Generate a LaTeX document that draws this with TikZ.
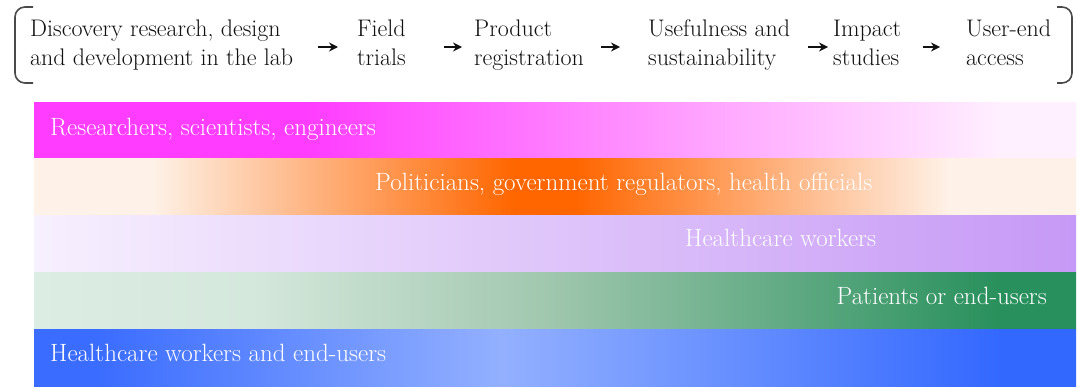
\documentclass[tikz,border=0pt]{standalone}
\usetikzlibrary{arrows.meta, positioning}
\definecolor{ink}         {HTML}{111111}
\definecolor{rim}         {HTML}{4A4A4A}
\definecolor{magentaband} {HTML}{FF3CFF}
\definecolor{pinkpale}    {HTML}{FFF0FF}
\definecolor{peach}       {HTML}{FEF2E8}
\definecolor{orangeband}  {HTML}{FF6600}
\definecolor{lilac}       {HTML}{F7F0FE}
\definecolor{purpleband}  {HTML}{C699F6}
\definecolor{mint}        {HTML}{DCEDE3}
\definecolor{mintgrey}    {HTML}{D5E8DC}
\definecolor{sage}        {HTML}{A2C8B0}
\definecolor{greenband}   {HTML}{28905C}
\definecolor{blueband}    {HTML}{3A6CFF}
\definecolor{skyband}     {HTML}{93B0FF}
\definecolor{deepblue}    {HTML}{3368FF}

% one shading per stakeholder band (25bp..75bp spans the band)
\pgfdeclarehorizontalshading{researchers}{100bp}{color(0bp)=(magentaband); color(38bp)=(magentaband);
  color(71.4bp)=(pinkpale); color(100bp)=(pinkpale)}
\pgfdeclarehorizontalshading{politicians}{100bp}{color(0bp)=(peach); color(30.6bp)=(peach);
  color(48bp)=(orangeband); color(51bp)=(orangeband); color(69bp)=(peach); color(100bp)=(peach)}
\pgfdeclarehorizontalshading{workers}{100bp}{color(0bp)=(lilac); color(25bp)=(lilac);
  color(75bp)=(purpleband); color(100bp)=(purpleband)}
\pgfdeclarehorizontalshading{patients}{100bp}{color(0bp)=(mint); color(25bp)=(mint);
  color(35.4bp)=(mintgrey); color(49.3bp)=(sage); color(71.4bp)=(greenband); color(100bp)=(greenband)}
\pgfdeclarehorizontalshading{endusers}{100bp}{color(0bp)=(blueband); color(28bp)=(blueband);
  color(47.4bp)=(skyband); color(71.4bp)=(deepblue); color(100bp)=(deepblue)}

\tikzset{
  stagebox/.style={anchor=west, inner sep=0pt, align=left, text=ink,
    font=\fontsize{24}{29}\selectfont,
    execute at begin node=\strut, execute at end node=\strut},
  bandtext/.style={inner sep=0pt, text=white, font=\fontsize{25}{29}\selectfont},
  flow/.style={-{Stealth[length=9pt, width=9pt]}, line width=1.6pt, ink},
  brace/.style={rim, line width=1.6pt, rounded corners=10pt}
}

\begin{document}
\begin{tikzpicture}[x=1pt, y=1pt]
    \useasboundingbox (0, 0) rectangle (1078, -388);

    % stages of the pipeline
    \node[stagebox] (discovery)    at (30, -47)  {Discovery research, design\\and development in the lab};
    \node[stagebox] (field)        at (357, -47) {Field\\trials};
    \node[stagebox] (registration) at (474, -47) {Product\\registration};
    \node[stagebox] (usefulness)   at (648, -47) {Usefulness and\\sustainability};
    \node[stagebox] (impact)       at (833, -47) {Impact\\studies};
    \node[stagebox] (access)       at (966, -47) {User-end\\access};

    \foreach \a/\b/\s/\t in {discovery/field/25/19, field/registration/38/12,
        registration/usefulness/17/28, usefulness/impact/18/5, impact/access/22/26}
      \draw[flow, shorten <=\s pt, shorten >=\t pt] (\a) -- (\b);

    % square brackets round the stages
    \draw[brace] (33, -7) -- (15, -7) -- (15, -83) -- (33, -83);
    \draw[brace] (1057, -7) -- (1072, -7) -- (1072, -83) -- (1057, -83);

    % stakeholder bands
    \foreach \s [count=\i from 0] in {researchers, politicians, workers, patients, endusers}
      \shade[shading=\s] (34, -102 - \i*56.8) rectangle (1076, -158.8 - \i*56.8);

    \node[bandtext, anchor=base west] (researchersl) at (50, -135)  {Researchers, scientists, engineers};
    \node[bandtext, anchor=base west] (politiciansl) at (375, -190) {Politicians, government regulators, health officials};
    \node[bandtext, anchor=base west] (workersl)     at (685, -246) {Healthcare workers};
    \node[bandtext, anchor=base east] (patientsl)    at (1047, -304) {Patients or end-users};
    \node[bandtext, anchor=base west] (endusersl)    at (50, -361)  {Healthcare workers and end-users};
  \end{tikzpicture}
\end{document}
